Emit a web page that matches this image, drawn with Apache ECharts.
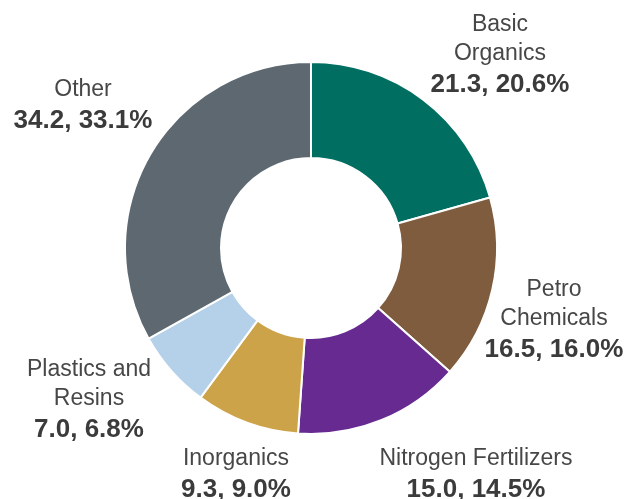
<!DOCTYPE html>
<html>
<head>
    <meta charset="utf-8">
    <title>Chemicals donut</title>
    <script type="text/javascript" src="https://cdn.jsdelivr.net/npm/echarts@6/dist/echarts.min.js"></script>
    <style>
        html, body { margin: 0; padding: 0; background: #fff; }
    </style>
</head>
<body>
<div id="donut" style="width:626px;height:499px;"></div>

<script type="text/javascript">
     var categories = ['Basic\nOrganics', 'Petro\nChemicals', 'Nitrogen Fertilizers', 'Inorganics', 'Plastics and\nResins', 'Other'];
     var values = [21.3, 16.5, 15.0, 9.3, 7.0, 34.2];
     var colors = ['#006e60', '#7f5c3e', '#662a91', '#cda349', '#b5d1ea', '#5d6870'];
     // label block centres (text layout only)
     var labelPos = [[500, 56], [554, 321], [476, 475], [236, 475], [89, 401], [83, 106]];

     var myChart = echarts.init(document.getElementById('donut'));
     var option = {
              backgroundColor: '#fff',
              animation: false,
              series: [{
                  type: 'pie',
                  center: [311, 248],
                  radius: [90, 186],
                  startAngle: 90,
                  percentPrecision: 1,
                  itemStyle: {
                      borderColor: '#fff',
                      borderWidth: 2
                  },
                  label: {
                      show: true,
                      position: 'outside',
                      alignTo: 'none',
                      overflow: 'none',
                      align: 'center',
                      fontFamily: 'Liberation Sans, Arial, sans-serif',
                      formatter: function (p) {
                          return '{n|' + p.name.split('\n').join('}\n{n|') + '}\n{v|' +
                              p.value.toFixed(1) + ', ' + p.percent.toFixed(1) + '%}';
                      },
                      rich: {
                          n: { fontSize: 23, color: '#474747', lineHeight: 29, align: 'center', fontFamily: 'Liberation Sans, Arial, sans-serif' },
                          v: { fontSize: 26, fontWeight: 'bold', color: '#3b3b3b', lineHeight: 33, align: 'center', fontFamily: 'Liberation Sans, Arial, sans-serif' }
                      }
                  },
                  labelLine: { show: false },
                  labelLayout: function (p) {
                      var pos = labelPos[p.dataIndex];
                      return { x: pos[0], y: pos[1], align: 'center', verticalAlign: 'middle', width: 300 };
                  },
                  emphasis: { disabled: true },
                  data: categories.map(function (c, i) {
                      return { name: c, value: values[i], itemStyle: { color: colors[i] } };
                  })
              }]
          };

     myChart.setOption(option);
</script>

</body>
</html>
